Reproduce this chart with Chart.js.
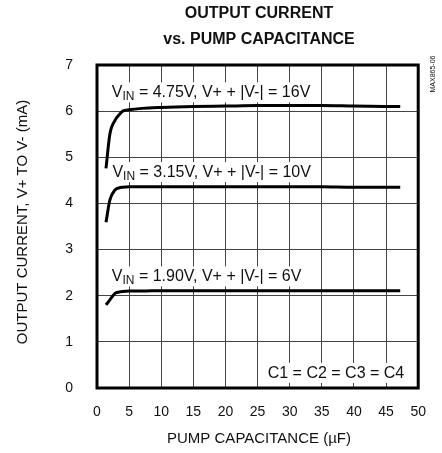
<!DOCTYPE html>
<html>
<head>
<meta charset="utf-8">
<script src="https://cdn.jsdelivr.net/npm/chart.js@4/dist/chart.umd.min.js"></script>
<style>
  html, body { margin: 0; padding: 0; background: #fff; }
  #wrap { width: 442px; height: 453px; }
</style>
</head>
<body>
<div id="wrap"><canvas id="c" width="442" height="453"></canvas></div>
<script>
// ---- data ----
const capacitance = [1.4, 2, 2.8, 3.5, 4, 5, 7, 10, 15, 20, 25, 30, 35, 40, 47.2];
const current16V  = [4.76, 5.5, 5.8, 5.93, 6.0, 6.03, 6.06, 6.08, 6.1, 6.11, 6.12, 6.12, 6.12, 6.11, 6.1];
const current10V  = [3.59, 4.07, 4.29, 4.34, 4.35, 4.36, 4.36, 4.36, 4.36, 4.36, 4.36, 4.36, 4.36, 4.35, 4.35];
const current6V   = [1.8, 1.91, 2.05, 2.08, 2.09, 2.1, 2.1, 2.11, 2.11, 2.11, 2.11, 2.11, 2.11, 2.11, 2.11];
const xTicks = [0, 5, 10, 15, 20, 25, 30, 35, 40, 45, 50];
const yTicks = [0, 1, 2, 3, 4, 5, 6, 7];
const seriesLabels = [
  ["V", "IN", " = 4.75V, V+ + |V-| = 16V"],
  ["V", "IN", " = 3.15V, V+ + |V-| = 10V"],
  ["V", "IN", " = 1.90V, V+ + |V-| = 6V"]
];
const noteLabel = "C1 = C2 = C3 = C4";
const titleLines = ["OUTPUT CURRENT", "vs. PUMP CAPACITANCE"];
const xTitle = "PUMP CAPACITANCE (\u00B5F)";
const yTitle = "OUTPUT CURRENT, V+ TO V- (mA)";
const partCode = "MAX865-06";

const FONT = '"Liberation Sans", Arial, Helvetica, sans-serif';
const toPts = ys => capacitance.map((x, i) => ({ x: x, y: ys[i] }));

// label anchors (data coords: left x, baseline y)
const labelAnchors = [[2.3, 6.30], [2.4, 4.57], [2.3, 2.31]];
const noteAnchor = [37.2, 0.22];

const labelsPlugin = {
  id: 'labels',
  beforeDatasetsDraw(chart) {
    const ctx = chart.ctx;
    const xs = chart.scales.x, ys = chart.scales.y;
    ctx.save();
    ctx.textBaseline = 'alphabetic';
    ctx.fillStyle = '#111';
    seriesLabels.forEach((parts, i) => {
      const x0 = xs.getPixelForValue(labelAnchors[i][0]);
      const by = ys.getPixelForValue(labelAnchors[i][1]);
      ctx.font = '16px ' + FONT;
      const w1 = ctx.measureText(parts[0]).width;
      const w3 = ctx.measureText(parts[2]).width;
      ctx.font = '12px ' + FONT;
      const w2 = ctx.measureText(parts[1]).width;
      const tw = w1 + w2 + w3;
      ctx.fillStyle = '#fff';
      ctx.fillRect(x0 - 4, by - 15, tw + 8, 20);
      ctx.fillStyle = '#111';
      ctx.font = '16px ' + FONT;
      ctx.fillText(parts[0], x0, by);
      ctx.font = '12px ' + FONT;
      ctx.fillText(parts[1], x0 + w1, by + 3);
      ctx.font = '16px ' + FONT;
      ctx.fillText(parts[2], x0 + w1 + w2, by);
    });
    // note
    ctx.font = '16px ' + FONT;
    const nw = ctx.measureText(noteLabel).width;
    const nx = xs.getPixelForValue(noteAnchor[0]);
    const ny = ys.getPixelForValue(noteAnchor[1]);
    ctx.fillStyle = '#fff';
    ctx.fillRect(nx - nw / 2 - 4, ny - 15, nw + 8, 20);
    ctx.fillStyle = '#111';
    ctx.textAlign = 'center';
    ctx.fillText(noteLabel, nx, ny);
    ctx.restore();
  },
  afterDatasetsDraw(chart) {
    const ctx = chart.ctx, a = chart.chartArea;
    ctx.save();
    ctx.strokeStyle = '#000';
    ctx.lineWidth = 3;
    ctx.strokeRect(a.left, a.top, a.right - a.left, a.bottom - a.top);
    ctx.restore();
  },
  afterDraw(chart) {
    const ctx = chart.ctx, a = chart.chartArea;
    ctx.save();
    ctx.fillStyle = '#111';
    ctx.textAlign = 'center';
    ctx.textBaseline = 'middle';
    ctx.font = 'bold 16px ' + FONT;
    ctx.fillText(titleLines[0], 259, 14);
    ctx.fillText(titleLines[1], 259, 40);
    ctx.font = '15px ' + FONT;
    ctx.fillText(xTitle, 259, 439);
    ctx.save();
    ctx.translate(23, 222);
    ctx.rotate(-Math.PI / 2);
    ctx.fillText(yTitle, 0, 0);
    ctx.restore();
    ctx.save();
    ctx.translate(433, 74);
    ctx.rotate(-Math.PI / 2);
    ctx.font = '7px ' + FONT;
    ctx.fillText(partCode, 0, 0);
    ctx.restore();
    ctx.restore();
  }
};

const lineStyle = {
  borderColor: '#000', borderWidth: 3, pointRadius: 0,
  cubicInterpolationMode: 'monotone', fill: false
};

new Chart(document.getElementById('c'), {
  type: 'line',
  data: {
    datasets: [
      Object.assign({ label: '16V', data: toPts(current16V) }, lineStyle),
      Object.assign({ label: '10V', data: toPts(current10V) }, lineStyle),
      Object.assign({ label: '6V', data: toPts(current6V) }, lineStyle)
    ]
  },
  options: {
    responsive: false,
    animation: false,
    layout: { padding: { top: 65, right: 20, left: 0, bottom: 0 } },
    plugins: { legend: { display: false }, tooltip: { enabled: false }, title: { display: false } },
    scales: {
      x: {
        type: 'linear', min: 0, max: 50,
        afterFit(s) { s.height = 65; },
        afterBuildTicks(s) { s.ticks = xTicks.map(v => ({ value: v })); },
        grid: { color: '#444', lineWidth: 1, drawTicks: false },
        border: { display: false },
        ticks: { padding: 16, color: '#111', font: { family: FONT, size: 14 } }
      },
      y: {
        type: 'linear', min: 0, max: 7,
        afterFit(s) { s.width = 97; },
        afterBuildTicks(s) { s.ticks = yTicks.map(v => ({ value: v })); },
        grid: { color: '#444', lineWidth: 1, drawTicks: false },
        border: { display: false },
        ticks: { padding: 24, color: '#111', font: { family: FONT, size: 14 } }
      }
    }
  },
  plugins: [labelsPlugin]
});
</script>
</body>
</html>
